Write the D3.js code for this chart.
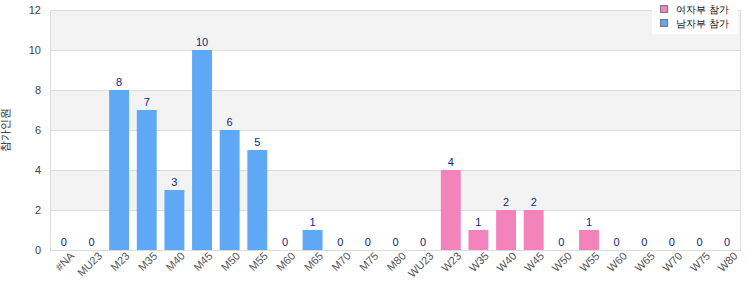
<!DOCTYPE html>
<html>
<head>
<meta charset="utf-8">
<script src="https://cdn.jsdelivr.net/npm/d3@7"></script>
<style>
  body { margin: 0; background: #fff; }
  svg { font-family: "Liberation Sans", Arial, sans-serif; }
</style>
</head>
<body>
<div id="chart"></div>
<script>
// data
const categories = ["#NA", "MU23", "M23", "M35", "M40", "M45", "M50", "M55", "M60", "M65", "M70", "M75", "M80",
  "WU23", "W23", "W35", "W40", "W45", "W50", "W55", "W60", "W65", "W70", "W75", "W80"];
const counts = [0, 0, 8, 7, 3, 10, 6, 5, 0, 1, 0, 0, 0, 0, 4, 1, 2, 2, 0, 1, 0, 0, 0, 0, 0];
const yTicks = [0, 2, 4, 6, 8, 10, 12];
const seriesNames = ["여자부 참가", "남자부 참가"];
const yTitle = "참가인원";

const width = 750, height = 300;
const margin = { top: 10, right: 9, bottom: 50, left: 50 };

const svg = d3.select("#chart").append("svg")
  .attr("width", width)
  .attr("height", height);

const x = d3.scaleBand()
  .domain(categories)
  .range([margin.left, width - margin.right])
  .paddingInner(0.28)
  .paddingOuter(0.14);

const y = d3.scaleLinear()
  .domain([0, 12])
  .range([height - margin.bottom, margin.top]);

const colorFor = (c) => c.startsWith("W") ? "#f383bb" : "#5fa8f5";

// alternating bands
for (let i = 0; i < yTicks.length - 1; i++) {
  svg.append("rect")
    .attr("x", margin.left)
    .attr("y", y(yTicks[i + 1]))
    .attr("width", width - margin.left - margin.right)
    .attr("height", y(yTicks[i]) - y(yTicks[i + 1]))
    .attr("fill", i % 2 === 1 ? "#f3f3f3" : "#fff");
}

// grid lines
svg.selectAll(".grid")
  .data(yTicks)
  .enter()
  .append("line")
  .attr("x1", margin.left)
  .attr("x2", width - margin.right)
  .attr("y1", (d) => y(d) + 0.5)
  .attr("y2", (d) => y(d) + 0.5)
  .attr("stroke", "#dcdcdc");

// frame
svg.append("rect")
  .attr("x", margin.left + 0.5)
  .attr("y", margin.top + 0.5)
  .attr("width", width - margin.left - margin.right - 1)
  .attr("height", height - margin.top - margin.bottom)
  .attr("fill", "none")
  .attr("stroke", "#dcdcdc");

// y axis
const yAxis = svg.append("g")
  .attr("transform", `translate(${margin.left},0)`)
  .call(d3.axisLeft(y).tickValues(yTicks).tickSize(0).tickPadding(9));
yAxis.select(".domain").remove();
yAxis.selectAll("text").style("font-size", "11px").attr("fill", "#444");

// x axis
const xAxis = svg.append("g")
  .attr("transform", `translate(0,${height - margin.bottom})`)
  .call(d3.axisBottom(x).tickSize(0).tickPadding(6));
xAxis.select(".domain").remove();
xAxis.selectAll("text")
  .style("font-size", "11px")
  .attr("fill", "#555")
  .attr("text-anchor", "end")
  .attr("dx", "0.3em")
  .attr("dy", "0.6em")
  .attr("transform", "rotate(-45)");

// bars
svg.selectAll(".bar")
  .data(categories)
  .enter()
  .append("rect")
  .attr("x", (d) => x(d))
  .attr("y", (d, i) => y(counts[i]))
  .attr("width", x.bandwidth())
  .attr("height", (d, i) => y(0) - y(counts[i]))
  .attr("fill", (d) => colorFor(d));

// value labels
svg.selectAll(".val")
  .data(categories)
  .enter()
  .append("text")
  .attr("x", (d) => x(d) + x.bandwidth() / 2)
  .attr("y", (d, i) => y(counts[i]) - 4)
  .attr("text-anchor", "middle")
  .style("font-size", "11px")
  .attr("fill", "#1a1a8c")
  .text((d, i) => counts[i]);

// y title
svg.append("text")
  .attr("transform", `translate(9,${(margin.top + height - margin.bottom) / 2}) rotate(-90)`)
  .attr("text-anchor", "middle")
  .style("font-size", "11px")
  .attr("fill", "#222")
  .text(yTitle);

// legend
const legend = svg.append("g").attr("transform", "translate(652,0)");
legend.append("rect")
  .attr("width", 86).attr("height", 34)
  .attr("fill", "#fff");
seriesNames.forEach((name, i) => {
  legend.append("rect")
    .attr("x", 8.5).attr("y", 5.5 + i * 14)
    .attr("width", 7).attr("height", 7)
    .attr("fill", i === 0 ? "#f383bb" : "#5fa8f5")
    .attr("stroke", "#777");
  legend.append("text")
    .attr("x", 24).attr("y", 13 + i * 14)
    .style("font-size", "10px")
    .attr("fill", "#111")
    .text(name);
});
</script>
</body>
</html>
